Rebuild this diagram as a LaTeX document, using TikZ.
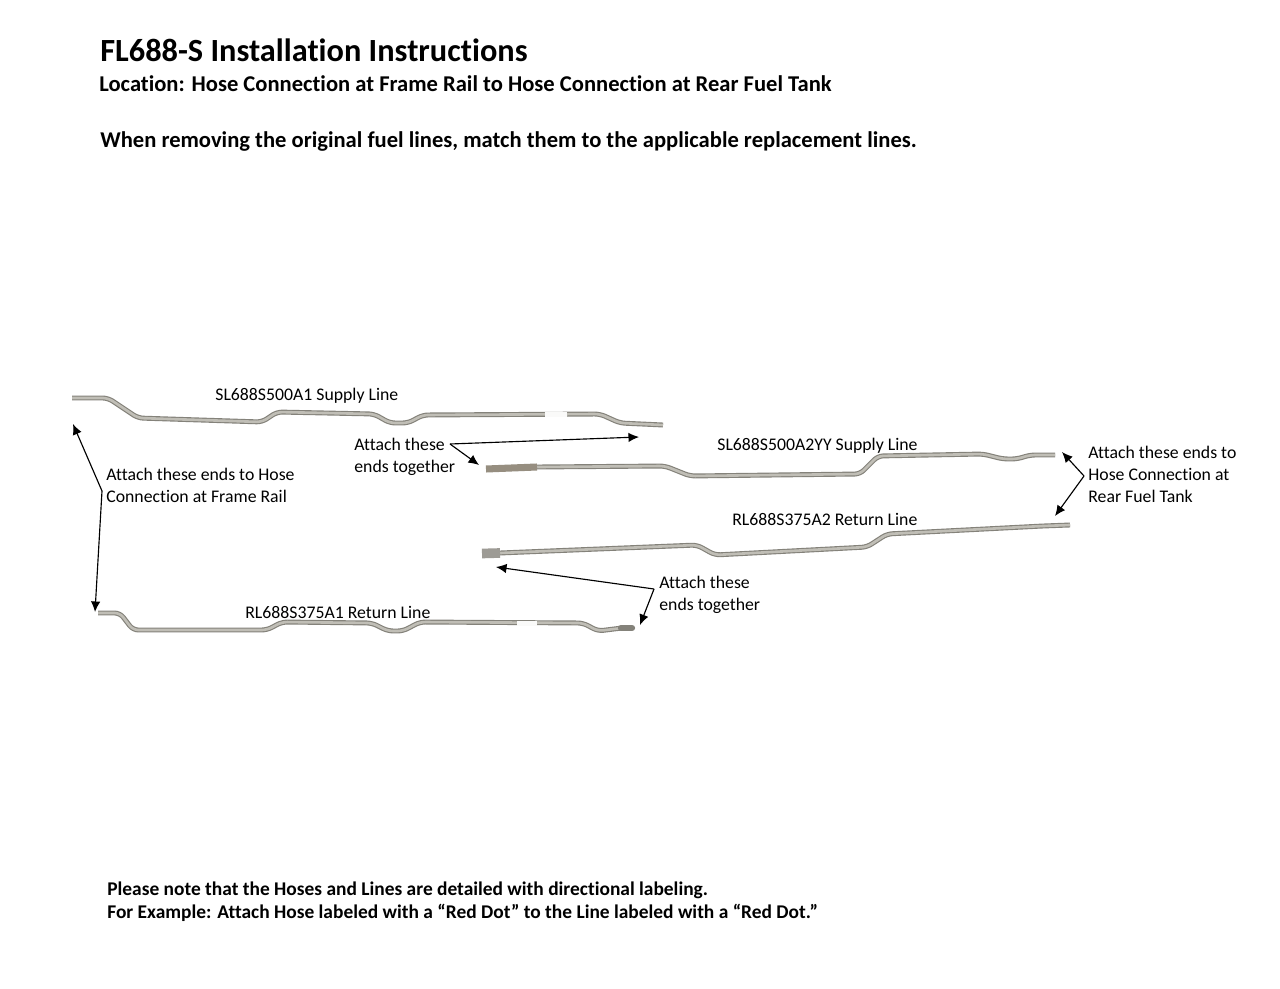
\documentclass[tikz,border=0pt]{standalone}
\usepackage{fontspec}
\setmainfont[Ligatures=NoCommon]{Carlito}
\usetikzlibrary{arrows.meta}
\definecolor{tubeedge}{RGB}{132,130,122}
\definecolor{tubecore}{RGB}{192,190,182}
\definecolor{braid}{RGB}{150,142,128}
\tikzset{
  tube/.style={draw=tubeedge,double=tubecore,double distance=1.5pt,line width=0.65pt,rounded corners=3pt,line join=round},
  tag/.style={fill=white!92!tubecore,draw=none},
  callout/.style={font=\fontsize{10.1}{12.5}\selectfont,align=left,inner sep=0pt},
  partname/.style={font=\fontsize{10.1}{12}\selectfont,inner sep=0pt},
  pointer/.style={-{Latex[length=6pt,width=5.4pt]},line width=0.65pt,black}
}
\begin{document}
\begin{tikzpicture}[x=0.02cm,y=-0.02cm]
  \useasboundingbox (0,0) rectangle (1280,989);
  \fill[white] (0,0) rectangle (1280,989);
  % heading
  \node[anchor=west,inner sep=0pt,font=\fontsize{18.4}{20}\selectfont\bfseries] (title) at (100,50.5) {FL688-S Installation Instructions};
  \node[anchor=west,inner sep=0pt,font=\fontsize{12.85}{14}\selectfont\bfseries] (location) at (99,84) {Location: Hose Connection at Frame Rail to Hose Connection at Rear Fuel Tank};
  \node[anchor=west,inner sep=0pt,font=\fontsize{12.85}{14}\selectfont\bfseries] (intro) at (100,141) {When removing the original fuel lines, match them to the applicable replacement lines.};
  % supply line, front
  \draw[tube] (72,398) -- (108,398) -- (138,418) -- (262,422) -- (277,412) -- (374,414) -- (390,423) -- (408,423) -- (423,415) -- (600,414) -- (620,423) -- (663,425);
  \fill[tag] (545,411.5) rectangle (567,416.5);
  % supply line, rear
  \draw[tube] (537,467) -- (665,466) -- (690,476) -- (860,474) -- (878,456) -- (983,454) -- (1003,459) -- (1017,459) -- (1030,455) -- (1055,455);
  \draw[braid,line width=4pt] (486,469) -- (537,467);
  % return line, rear
  \draw[tube] (500,553) -- (697,545) -- (715,555) -- (867,547) -- (887,534) -- (1043,526) -- (1070,525);
  \draw[tubeedge!80,line width=5.5pt] (482,553.5) -- (500,553);
  % return line, front
  \draw[tube] (98,613) -- (120,613) -- (133,630) -- (267,630) -- (282,622) -- (372,623) -- (388,631) -- (403,631) -- (420,622) -- (583,623) -- (598,631) -- (622,628);
  \fill[tag] (517,620.5) rectangle (537,625.5);
  \draw[tubeedge,line width=3.6pt,line cap=round] (621,628) -- (632,628);
  % part names
  \node[partname,anchor=west] (frontsupply) at (215,395.5) {SL688S500A1 Supply Line};
  \node[partname,anchor=west] (rearsupply) at (717,446) {SL688S500A2YY Supply Line};
  \node[partname,anchor=west] (rearreturn) at (732,519) {RL688S375A2 Return Line};
  \node[partname,anchor=west] (frontreturn) at (245,612.5) {RL688S375A1 Return Line};
  % callouts
  \node[callout,anchor=west] (framenote) at (106,485.5) {Attach these ends to Hose\\Connection at Frame Rail};
  \node[callout,anchor=west] (jointnote) at (354,457) {Attach these\\ends together};
  \node[callout,anchor=west] (tanknote) at (1088,474.5) {Attach these ends to\\Hose Connection at\\Rear Fuel Tank};
  \node[callout,anchor=west] (backnote) at (659,595) {Attach these\\ends together};
  % ends the pointers reach
  \coordinate (frontsupplyend) at (73,424);
  \coordinate (frontreturnend) at (95,612);
  \coordinate (jointa) at (639,437);
  \coordinate (jointb) at (479,465);
  \coordinate (tanka) at (1062,452);
  \coordinate (tankb) at (1055,516);
  \coordinate (backa) at (496,567);
  \coordinate (backb) at (640,625);
  \coordinate (framebend) at (102,491);
  \coordinate (jointbend) at (450,444);
  \coordinate (tankbend) at (1084,476);
  \coordinate (backbend) at (654,589);
  % pointers
  \draw[pointer] (framebend) -- (frontsupplyend);
  \draw[pointer] (framebend) -- (frontreturnend);
  \draw[pointer] (jointbend) -- (jointa);
  \draw[pointer] (jointbend) -- (jointb);
  \draw[pointer] (tankbend) -- (tanka);
  \draw[pointer] (tankbend) -- (tankb);
  \draw[pointer] (backbend) -- (backa);
  \draw[pointer] (backbend) -- (backb);
  % footer
  \node[anchor=west,inner sep=0pt,align=left,font=\fontsize{11.05}{13}\selectfont\bfseries] (footer) at (107,902) {Please note that the Hoses and Lines are detailed with directional labeling.\\For Example: Attach Hose labeled with a “Red Dot” to the Line labeled with a “Red Dot.”};
\end{tikzpicture}
\end{document}
